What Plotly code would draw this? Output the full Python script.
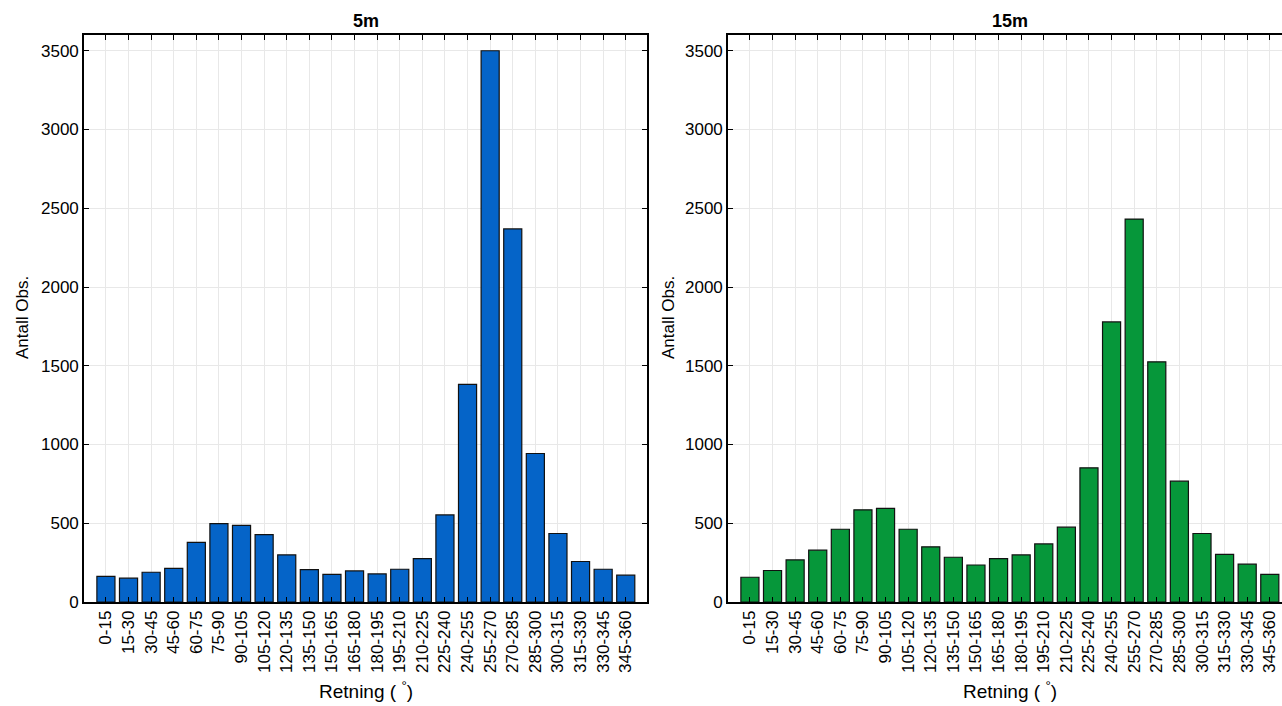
import plotly.graph_objects as go

# Direction sectors (degrees)
sectors = ["0-15", "15-30", "30-45", "45-60", "60-75", "75-90", "90-105", "105-120",
           "120-135", "135-150", "150-165", "165-180", "180-195", "195-210", "210-225",
           "225-240", "240-255", "255-270", "270-285", "285-300", "300-315", "315-330",
           "330-345", "345-360"]

# Number of observations per sector at 5 m
counts_5m = [163, 151, 189, 214, 379, 498, 486, 428, 299, 206, 176, 197, 178,
             208, 276, 553, 1382, 3500, 2369, 943, 435, 257, 208, 170]

# Number of observations per sector at 15 m
counts_15m = [157, 200, 267, 329, 462, 585, 594, 462, 350, 284, 235, 276, 299,
              369, 475, 852, 1778, 2431, 1525, 767, 435, 303, 240, 176]

y_ticks = [0, 500, 1000, 1500, 2000, 2500, 3000, 3500]

W, H = 1282, 706
FONT = "Liberation Sans, Arial, sans-serif"

fig = go.Figure()
fig.add_trace(go.Bar(x=sectors, y=counts_5m, xaxis="x", yaxis="y", width=0.8,
                     marker=dict(color="#0564C8", line=dict(color="#111111", width=1.2))))
fig.add_trace(go.Bar(x=sectors, y=counts_15m, xaxis="x2", yaxis="y2", width=0.8,
                     marker=dict(color="#06973A", line=dict(color="#111111", width=1.2))))

left_dom = [84 / W, 647 / W]
right_dom = [728 / W, 1.0]
y_dom = [1 - 602 / H, 1 - 35 / H]

xcommon = dict(type="category", tickangle=-90, showgrid=True, gridcolor="#e8e8e8",
               gridwidth=1, showline=True, linecolor="black", linewidth=1.6,
               ticks="inside", ticklen=5, tickcolor="black", mirror="ticks",
               tickfont=dict(family=FONT, size=17, color="black"), automargin=False,
               zeroline=False, fixedrange=True)
ycommon = dict(range=[0, 3600], tickvals=y_ticks, showgrid=True, gridcolor="#e8e8e8",
               gridwidth=1, showline=True, linecolor="black", linewidth=1.6,
               ticks="inside", ticklen=5, tickcolor="black",
               tickfont=dict(family=FONT, size=17, color="black"), automargin=False,
               zeroline=False, domain=y_dom, fixedrange=True)

fig.update_layout(
    width=W, height=H,
    margin=dict(l=0, r=0, t=0, b=0),
    paper_bgcolor="white", plot_bgcolor="white",
    showlegend=False, bargap=0.2,
    xaxis=dict(xcommon, domain=left_dom, anchor="y", range=[-0.97, 23.94]),
    yaxis=dict(ycommon, anchor="x", mirror="ticks"),
    xaxis2=dict(xcommon, domain=right_dom, anchor="y2", range=[-0.97, 23.54]),
    yaxis2=dict(ycommon, anchor="x2", mirror=False),
)

# Panel titles and axis titles; the right panel is centred as if it were full width
ann = []
panels = [(left_dom, "5m"), ([728 / W, (728 + 563) / W], "15m")]
for dom, title in panels:
    cx = (dom[0] + dom[1]) / 2
    ann.append(dict(text=f"<b>{title}</b>", x=cx, y=1 - 21 / H, xref="paper", yref="paper",
                    showarrow=False, font=dict(family=FONT, size=18, color="black"),
                    xanchor="center", yanchor="middle"))
    ann.append(dict(text="Retning ( <sup>°</sup>)", x=cx, y=1 - 690 / H, xref="paper",
                    yref="paper", showarrow=False,
                    font=dict(family=FONT, size=19, color="black"),
                    xanchor="center", yanchor="middle"))
for px in (22, 668):
    ann.append(dict(text="Antall Obs.", x=px / W, y=1 - 318 / H, xref="paper", yref="paper",
                    showarrow=False, textangle=-90,
                    font=dict(family=FONT, size=17, color="black"),
                    xanchor="center", yanchor="middle"))
fig.update_layout(annotations=ann)

fig.write_html("out.html")
